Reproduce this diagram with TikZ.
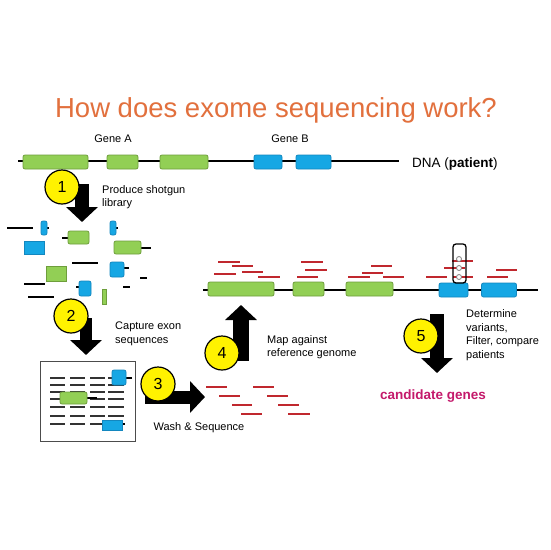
\documentclass[tikz,border=0pt]{standalone}
\usepackage{fontspec}
\setmainfont{Liberation Sans}
\usetikzlibrary{arrows.meta}
\definecolor{exgreen}{HTML}{92CF55}
\definecolor{exgreenD}{HTML}{6E9E3C}
\definecolor{exblue}{HTML}{16A7E4}
\definecolor{exblueD}{HTML}{1387BF}
\definecolor{readred}{HTML}{C0282E}
\definecolor{titleorange}{HTML}{E2703D}
\definecolor{candmag}{HTML}{C4196B}
\begin{document}
\begin{tikzpicture}[x=1pt,y=-1pt,
    gex/.style={draw=exgreenD, fill=exgreen, rounded corners=2pt, inner sep=0, line width=0.8pt, minimum height=14pt},
    bex/.style={draw=exblueD, fill=exblue, rounded corners=2pt, inner sep=0, line width=0.8pt, minimum height=14pt},
    readl/.style={draw=readred, line width=1.8pt},
    fragl/.style={draw=black, line width=1.5pt},
    dashl/.style={draw=black!80, line width=1.2pt},
    numc/.style={circle, draw, fill=yellow, line width=1.2pt, minimum size=34pt, inner sep=0, font=\fontsize{16}{16}\selectfont},
    bigarrow/.style={line width=14pt, -{Triangle[width=31pt,length=15pt]}},
    lbl/.style={font=\fontsize{11}{13.5}\selectfont, align=left, inner sep=0}]
    \useasboundingbox[fill=white] (0,0) rectangle (550,550);

    \node[anchor=base, text=titleorange, font=\fontsize{27.5}{30}\selectfont] (title) at (276,117) {How does exome sequencing work?};

    \coordinate (dnaL) at (18,161);
    \coordinate (dnaR) at (399,161);
    \draw[line width=1.5pt] (dnaL) -- (dnaR);
    \node[gex, minimum width=65pt] (ga1) at (55.5,162) {};
    \node[gex, minimum width=31pt] (ga2) at (122.5,162) {};
    \node[gex, minimum width=48pt] (ga3) at (184,162) {};
    \node[bex, minimum width=28pt] (gb1) at (268,162) {};
    \node[bex, minimum width=35pt] (gb2) at (313.5,162) {};
    \node[lbl, anchor=base] (geneA) at (113,142) {Gene A};
    \node[lbl, anchor=base] (geneB) at (290,142) {Gene B};
    \node[anchor=base west, inner sep=0, font=\fontsize{13.5}{15}\selectfont] (dnalbl) at (412,167) {DNA (\textbf{patient})};

    \coordinate (a1s) at (82,184);
    \coordinate (a1e) at (82,222);
    \draw[bigarrow] (a1s) -- (a1e);
    \node[numc] (c1) at (62,187) {1};
    \node[lbl, anchor=west] (step1) at (102,197) {Produce shotgun\\library};

    \draw[fragl] (7,228) -- (33,228);
    \draw[fragl] (72,263) -- (98,263);
    \draw[fragl] (140,278) -- (147,278);
    \draw[fragl] (24,284) -- (45,284);
    \draw[fragl] (123,287) -- (130,287);
    \draw[fragl] (28,297) -- (54,297);
    \draw[fragl] (44,228) -- (49,228);
    \draw[fragl] (62,238) -- (70,238);
    \draw[fragl] (113,228) -- (118,228);
    \draw[fragl] (138,248) -- (151,248);
    \draw[fragl] (120,268) -- (129,268);
    \draw[fragl] (76,287) -- (82,287);
    \node[bex, minimum width=6pt, minimum height=14pt] (f1) at (44,228) {};
    \node[bex, minimum width=20pt, minimum height=13pt, rounded corners=0pt] (f2) at (34,247.5) {};
    \node[gex, minimum width=21pt, minimum height=13pt] (f3) at (78.5,237.5) {};
    \node[bex, minimum width=6pt, minimum height=14pt] (f4) at (113,228) {};
    \node[gex, minimum width=27pt, minimum height=13pt] (f5) at (127.5,247.5) {};
    \node[gex, minimum width=20pt, minimum height=15pt, rounded corners=0pt] (f6) at (56,273.5) {};
    \node[bex, minimum width=14pt, minimum height=15pt] (f7) at (117,269.5) {};
    \node[bex, minimum width=12pt, minimum height=15pt] (f8) at (85,288.5) {};
    \node[gex, minimum width=4pt, minimum height=15pt, rounded corners=0pt] (f9) at (104,296.5) {};

    \coordinate (a2s) at (86,318);
    \coordinate (a2e) at (86,355);
    \draw[bigarrow, line width=12pt] (a2s) -- (a2e);
    \node[numc] (c2) at (71,316) {2};
    \node[lbl, anchor=west] (step2) at (115,334) {Capture exon\\sequences};

    \node[draw=black!70, line width=1pt, minimum width=95pt, minimum height=80pt, inner sep=0] (capbox) at (87.5,401) {};
    \foreach \y in {378,385,392,399,407,416,424}{
        \foreach \xa/\xb in {50/65,70/85,90/105,108/124}{
            \draw[dashl] (\xa,\y) -- (\xb,\y);
        }
    }
    \draw[fragl] (120,378) -- (132,378);
    \draw[fragl] (85,398) -- (97,398);
    \draw[fragl] (118,424) -- (125,424);
    \node[bex, minimum width=14pt, minimum height=15pt] (cb1) at (119,377.5) {};
    \node[gex, minimum width=27pt, minimum height=12pt] (cg1) at (73.5,398) {};
    \node[bex, minimum width=20pt, minimum height=10pt, rounded corners=0pt] (cb2) at (112,425) {};

    \coordinate (a3s) at (145,397);
    \coordinate (a3e) at (205,397);
    \draw[bigarrow, line width=13pt] (a3s) -- (a3e);
    \node[numc] (c3) at (158,384) {3};
    \node[lbl, anchor=base] (step3) at (199,430) {Wash \& Sequence};

    \foreach \xa/\xb/\y in {206/227/387,219/240/396,232/252/405,241/262/414,253/274/387,267/288/396,278/299/405,288/310/414}{
        \draw[readl] (\xa,\y) -- (\xb,\y);
    }

    \coordinate (a4s) at (241,361);
    \coordinate (a4e) at (241,305);
    \draw[bigarrow, line width=16pt] (a4s) -- (a4e);
    \node[numc] (c4) at (222,353) {4};
    \node[lbl, anchor=west] (step4) at (267,347) {Map against\\reference genome};

    \coordinate (mapL) at (203,290);
    \coordinate (mapR) at (538,290);
    \draw[line width=1.5pt] (mapL) -- (mapR);
    \foreach \xa/\xb/\y in {218/240/262,232/253/266,214/236/274,242/263/272,258/280/277,301/323/262,305/327/270,297/318/277,371/392/266,362/383/273,348/370/277,383/404/277,426/447/277,444/465/268,452/473/261,453/473/277,496/517/270,487/508/277}{
        \draw[readl] (\xa,\y) -- (\xb,\y);
    }
    \node[gex, minimum width=66pt] (ma1) at (241,289) {};
    \node[gex, minimum width=31pt] (ma2) at (308.5,289) {};
    \node[gex, minimum width=47pt] (ma3) at (369.5,289) {};
    \node[bex, minimum width=29pt] (mb1) at (453.5,290) {};
    \node[bex, minimum width=35pt] (mb2) at (499,290) {};
    \node[draw, line width=1.3pt, rounded corners=3pt, minimum width=13pt, minimum height=39pt, inner sep=0] (varbox) at (459.5,263.5) {};
    \foreach \y/\n in {259/1,268/2,277/3}{
        \node[circle, draw=gray, fill=white, line width=0.8pt, minimum size=5pt, inner sep=0] (snp\n) at (459,\y) {};
    }

    \coordinate (a5s) at (437,314);
    \coordinate (a5e) at (437,373);
    \draw[bigarrow] (a5s) -- (a5e);
    \node[numc] (c5) at (421,336) {5};
    \node[lbl, anchor=west] (step5) at (466,335) {Determine\\variants,\\Filter, compare\\patients};

    \node[anchor=base, text=candmag, font=\fontsize{13.5}{15}\selectfont\bfseries] (cand) at (433,399) {candidate genes};
\end{tikzpicture}
\end{document}
